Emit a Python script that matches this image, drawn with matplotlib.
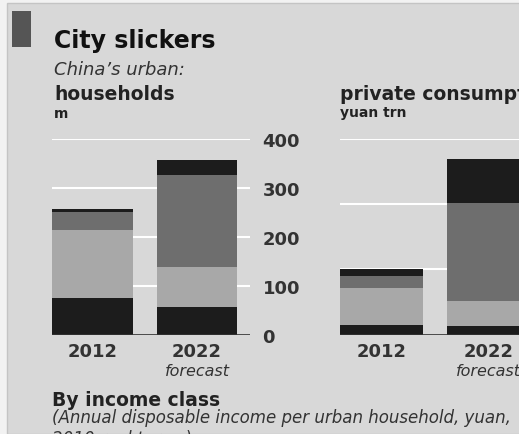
import matplotlib.pyplot as plt
from matplotlib.patches import Rectangle

years = ['2012', '2022']
classes = ['Poor', 'Lower middle', 'Upper middle', 'Affluent']
households = {  # m
    'Poor': [75, 57],
    'Lower middle': [139, 81],
    'Upper middle': [36, 188],
    'Affluent': [7, 32],
}
consumption = {  # yuan trn
    'Poor': [1.5, 1.3],
    'Lower middle': [5.6, 3.8],
    'Upper middle': [1.9, 15.1],
    'Affluent': [1.1, 6.7],
}
hh_ticks = [0, 100, 200, 300, 400]
cons_ticks = [0, 10, 20, 30]

colours = {'Poor': '#1c1c1c', 'Lower middle': '#a8a8a8',
           'Upper middle': '#6e6e6e', 'Affluent': '#1c1c1c'}
bg = '#d8d8d8'
plt.rcParams['font.family'] = 'DejaVu Sans'

W, H = 519, 435
fig = plt.figure(figsize=(W/100, H/100), dpi=100, facecolor='#f2f2f2')
fig.patches.append(Rectangle((7/W, 0), 1, 1 - 4/H, transform=fig.transFigure,
                             facecolor=bg, edgecolor='#c4c4c4', lw=1, zorder=-5))
# little marker box next to the title
fig.patches.append(Rectangle((12/W, 1 - 48/H), 19/W, 36/H, transform=fig.transFigure,
                             facecolor='#555555', edgecolor='none'))


def panel(rect, data, ticks, xlim, show_labels):
    ax = fig.add_axes(rect)
    ax.set_facecolor('none')
    x = list(range(len(years)))
    bottom = [0] * len(years)
    for c in classes:
        ax.bar(x, data[c], bottom=bottom, width=0.77, color=colours[c], zorder=3)
        bottom = [b + v for b, v in zip(bottom, data[c])]
    for t in ticks[1:]:
        ax.axhline(t, color='white', lw=1.5, zorder=1)
    ax.axhline(0, color='#333333', lw=1.2, zorder=4)
    ax.set_xlim(*xlim)
    ax.set_ylim(ticks[0], ticks[-1])
    for s in ax.spines.values():
        s.set_visible(False)
    ax.set_xticks(x)
    ax.set_xticklabels(years, fontsize=13, fontweight='bold', color='#333333')
    ax.tick_params(axis='x', length=0, pad=5)
    ax.yaxis.tick_right()
    ax.set_yticks(ticks)
    if show_labels:
        ax.set_yticklabels([str(t) for t in ticks], fontsize=13, fontweight='bold',
                           color='#333333')
    else:
        ax.set_yticklabels([])
    ax.tick_params(axis='y', length=0, pad=9)
    ax.text(1, -0.182, 'forecast', transform=ax.get_xaxis_transform(), ha='center',
            va='center', fontsize=11.5, style='italic', color='#333333')
    return ax


panel([52/W, 1 - 335.6/H, 198/W, 195.6/H], households, hh_ticks, (-0.388, 1.507), True)
panel([340/W, 1 - 335.6/H, 220/W, 195.6/H], consumption, cons_ticks, (-0.388, 1.668), False)

def ftext(x, y, s, color='#222222', **kw):
    fig.text(x/W, 1 - y/H, s, va='center', ha='left', color=color, **kw)

ftext(54, 41, 'City slickers', fontsize=17, fontweight='bold', color='#111111')
ftext(54, 70, 'China\u2019s urban:', fontsize=13, style='italic', color='#333333')
ftext(54, 95, 'households', fontsize=13.5, fontweight='bold')
ftext(54, 114, 'm', fontsize=10, fontweight='bold')
ftext(340, 95, 'private consumption', fontsize=13.5, fontweight='bold')
ftext(340, 113, 'yuan trn', fontsize=10, fontweight='bold')
ftext(52, 401, 'By income class', fontsize=13.5, fontweight='bold')
ftext(52, 418, '(Annual disposable income per urban household, yuan,',
      fontsize=12, style='italic', color='#333333')
ftext(52, 439, '2010 real terms)', fontsize=12, style='italic', color='#333333')

fig.savefig('out.png', dpi=100, facecolor=fig.get_facecolor())
